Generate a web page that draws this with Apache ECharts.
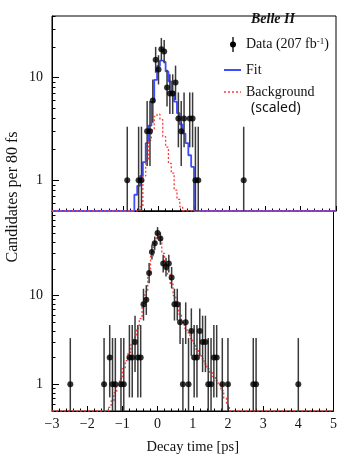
<!DOCTYPE html>
<html><head><meta charset="utf-8">
<script src="https://cdn.jsdelivr.net/npm/echarts@6/dist/echarts.min.js"></script>
<style>html,body{margin:0;padding:0;background:#fff}#c{width:340px;height:456px}</style>
</head><body><div id="c"></div>
<script>
// ---------- data ----------
const binWidth = 0.08; // ps (80 fs)

// Upper panel: data counts per bin (bin centre in ps)
const topDataTime   = [-0.88,-0.56,-0.48,-0.32,-0.24,-0.16,-0.08,0.00,0.08,0.16,0.24,0.32,0.40,0.48,0.56,0.64,0.72,0.88,0.96,1.04,1.12,2.40];
const topDataCounts = [1,1,1,3,3,6,15,12,19,18,8,7,7,9,4,3,4,4,4,1,1,1];

// Upper panel: fit (blue histogram)
const topFitTime   = [-0.64,-0.56,-0.48,-0.40,-0.32,-0.24,-0.16,-0.08,0.00,0.08,0.16,0.24,0.32,0.40,0.48,0.56,0.64,0.72,0.80,0.88,0.96];
const topFitValues = [0.72,0.88,1.1,1.5,2.3,3.4,5.8,9.5,13.0,14.7,14.2,11.5,9.2,7.3,5.85,4.5,3.5,2.85,2.3,1.75,1.35];

// Upper panel: background (scaled, red dotted histogram)
const topBkgTime   = [-0.48,-0.40,-0.32,-0.24,-0.16,-0.08,0.00,0.08,0.16,0.24,0.32,0.40,0.48,0.56,0.64];
const topBkgValues = [0.55,1.1,1.55,2.45,3.1,4.2,4.4,3.9,2.66,2.1,1.46,1.17,0.8,0.65,0.55];

// Lower panel: data counts per bin
const botDataTime   = [-2.48,-1.52,-1.36,-1.28,-1.20,-1.04,-0.96,-0.80,-0.72,-0.64,-0.56,-0.48,-0.40,-0.32,-0.24,-0.16,-0.08,0.00,0.08,0.16,0.24,0.32,0.40,0.48,0.56,0.64,0.72,0.80,0.88,0.96,1.04,1.12,1.20,1.28,1.36,1.44,1.52,1.60,1.68,1.84,2.00,2.72,2.80,4.00];
const botDataCounts = [1,1,2,1,1,1,1,2,2,3,2,2,8,9,18,31,39,51,44,23,21,23,16,8,8,5,1,5,1,4,2,2,4,3,3,1,1,2,2,1,1,1,1,1];

// Lower panel: red dotted histogram
const botBkgTime   = [-1.36,-1.28,-1.20,-1.12,-1.04,-0.96,-0.88,-0.80,-0.72,-0.64,-0.56,-0.48,-0.40,-0.32,-0.24,-0.16,-0.08,0.00,0.08,0.16,0.24,0.32,0.40,0.48,0.56,0.64,0.72,0.80,0.88,0.96,1.04,1.12,1.20,1.28,1.36,1.44,1.52,1.60,1.68,1.76,1.84,1.92,2.00];
const botBkgValues = [0.55,0.65,0.8,0.95,1.15,1.5,1.85,2.3,2.8,3.4,4.3,5.5,7.5,11,17,28,40,50,46,30,22,17.5,13.5,10,7.8,6.2,5.0,4.3,3.8,3.3,2.9,2.5,2.2,1.95,1.7,1.5,1.35,1.22,1.1,1.0,0.85,0.7,0.58];

// Axis ticks / labels
const xRange = [-3, 5];
const topYRange = [0.5, 40];
const botYRange = [0.5, 90];
const yMajorTicks = [1, 10];
const yMinorTicksTop = [0.6,0.7,0.8,0.9,2,3,4,5,6,7,8,9,20,30,40];
const yMinorTicksBot = [0.6,0.7,0.8,0.9,2,3,4,5,6,7,8,9,20,30,40,50,60,70,80,90];

// ---------- helpers ----------
const SERIF = 'Liberation Serif';
const BLUE = '#3f4cff';
const RED = '#ff3b3b';

function stepPath(centers, values, yMin) {
  const h = binWidth / 2;
  const pts = [[xRange[0], yMin], [centers[0] - h, yMin]];
  centers.forEach((c, i) => {
    const v = Math.max(values[i], yMin);
    pts.push([c - h, v], [c + h, v]);
  });
  pts.push([centers[centers.length - 1] + h, yMin], [xRange[1], yMin]);
  return pts;
}
// Poisson (Gehrels) 1-sigma interval for a count
function poissonInterval(n) {
  const hi = n + Math.sqrt(n + 0.75) + 1;
  const lo = n * Math.pow(1 - 1 / (9 * n) - 1 / (3 * Math.sqrt(n)), 3);
  return [lo, hi];
}
function errData(times, counts, yr) {
  return times.map((t, i) => {
    const [lo, hi] = poissonInterval(counts[i]);
    return [t, Math.max(lo, yr[0]), Math.min(hi, yr[1])];
  });
}
function errSeries(times, counts, yr, xi, yi) {
  return {
    type: 'custom', xAxisIndex: xi, yAxisIndex: yi, z: 3,
    data: errData(times, counts, yr),
    encode: { x: 0, y: [1, 2] },
    renderItem: function (params, api) {
      const p1 = api.coord([api.value(0), api.value(1)]);
      const p2 = api.coord([api.value(0), api.value(2)]);
      return { type: 'line', shape: { x1: p1[0], y1: p1[1], x2: p2[0], y2: p2[1] },
               style: { stroke: '#3a3a3a', lineWidth: 1.5 } };
    }
  };
}
function xAxisCfg(gridIndex, showLabels) {
  return {
    type: 'value', gridIndex, min: xRange[0], max: xRange[1], interval: 1,
    axisLine: { show: true, onZero: false, lineStyle: { color: '#000', width: 1 } },
    axisTick: { show: true, inside: true, length: 5, lineStyle: { color: '#000', width: 1 } },
    minorTick: { show: true, splitNumber: 5, length: 2.5, lineStyle: { color: '#000', width: 1 } },
    splitLine: { show: false },
    axisLabel: { show: showLabels, margin: 6, fontFamily: SERIF, fontSize: 14, color: '#111',
                 formatter: v => String(v).replace('-', '\u2212') },
    name: showLabels ? 'Decay time [ps]' : '',
    nameLocation: 'middle', nameGap: 29,
    nameTextStyle: { fontFamily: SERIF, fontSize: 14.5, color: '#111' }
  };
}
function yAxisMajor(gridIndex, yr) {
  return {
    type: 'log', logBase: 10, gridIndex, min: yr[0], max: yr[1], position: 'left',
    axisLine: { show: true, onZero: false, lineStyle: { color: '#000', width: 1 } },
    axisTick: { show: true, inside: true, length: 7, customValues: yMajorTicks, lineStyle: { color: '#000', width: 1 } },
    axisLabel: { show: true, customValues: yMajorTicks, margin: 9, fontFamily: SERIF, fontSize: 14, color: '#111',
                 formatter: v => String(Math.round(v)) },
    splitLine: { show: false }, minorTick: { show: false }
  };
}
function yAxisMinor(gridIndex, yr, minors) {
  return {
    type: 'log', logBase: 10, gridIndex, min: yr[0], max: yr[1], position: 'left',
    axisLine: { show: false, onZero: false },
    axisTick: { show: true, inside: true, length: 3.5, customValues: minors, lineStyle: { color: '#000', width: 1 } },
    axisLabel: { show: false }, splitLine: { show: false }
  };
}

const chart = echarts.init(document.getElementById('c'), null, { renderer: 'canvas' });
chart.setOption({
  animation: false,
  backgroundColor: '#fff',
  grid: [
    { left: 52, right: 4, top: 16, height: 195, show: true, borderColor: '#000', borderWidth: 1, backgroundColor: 'transparent' },
    { left: 52, right: 4, top: 211, height: 203.5, show: true, borderColor: '#000', borderWidth: 1, backgroundColor: 'transparent' }
  ],
  xAxis: [xAxisCfg(0, false), xAxisCfg(1, true)],
  yAxis: [yAxisMajor(0, topYRange), yAxisMinor(0, topYRange, yMinorTicksTop),
          yAxisMajor(1, botYRange), yAxisMinor(1, botYRange, yMinorTicksBot)],
  series: [
    { type: 'line', xAxisIndex: 0, yAxisIndex: 0, data: stepPath(topFitTime, topFitValues, topYRange[0]),
      showSymbol: false, symbol: 'none', lineStyle: { color: BLUE, width: 1.8 }, z: 2 },
    { type: 'line', xAxisIndex: 0, yAxisIndex: 0, data: stepPath(topBkgTime, topBkgValues, topYRange[0]),
      showSymbol: false, symbol: 'none', lineStyle: { color: RED, width: 1.3, type: [2, 2] }, z: 2 },
    errSeries(topDataTime, topDataCounts, topYRange, 0, 0),
    { type: 'scatter', xAxisIndex: 0, yAxisIndex: 0, symbol: 'circle', symbolSize: 6, z: 4,
      itemStyle: { color: '#000' }, data: topDataTime.map((t, i) => [t, topDataCounts[i]]) },

    { type: 'line', xAxisIndex: 1, yAxisIndex: 2, data: stepPath(botBkgTime, botBkgValues, botYRange[0]),
      showSymbol: false, symbol: 'none', lineStyle: { color: RED, width: 1.3, type: [2, 2] }, z: 2 },
    errSeries(botDataTime, botDataCounts, botYRange, 1, 2),
    { type: 'scatter', xAxisIndex: 1, yAxisIndex: 2, symbol: 'circle', symbolSize: 6, z: 4,
      itemStyle: { color: '#000' }, data: botDataTime.map((t, i) => [t, botDataCounts[i]]) }
  ],
  graphic: [
    { type: 'text', x: 13, y: 197, rotation: Math.PI / 2,
      style: { text: 'Candidates per 80 fs', fontFamily: SERIF, fontSize: 16, fill: '#111', align: 'center', verticalAlign: 'middle' } },
    { type: 'text', x: 273, y: 19,
      style: { text: 'Belle II', fontFamily: SERIF, fontSize: 14, fontWeight: 'bold', fontStyle: 'italic', fill: '#111', align: 'center', verticalAlign: 'middle' } },
    { type: 'line', shape: { x1: 233, y1: 37, x2: 233, y2: 52 }, style: { stroke: '#222', lineWidth: 1.5 } },
    { type: 'circle', shape: { cx: 233, cy: 44.5, r: 3 }, style: { fill: '#000' } },
    { type: 'text', x: 246, y: 44,
      style: { text: 'Data (207 fb{sup|-1})', fontFamily: SERIF, fontSize: 14, fill: '#111', verticalAlign: 'middle',
               rich: { sup: { fontFamily: SERIF, fontSize: 9, fill: '#111', verticalAlign: 'top', lineHeight: 10 } } } },
    { type: 'line', shape: { x1: 224, y1: 70, x2: 241, y2: 70 }, style: { stroke: BLUE, lineWidth: 2 } },
    { type: 'text', x: 246, y: 70, style: { text: 'Fit', fontFamily: SERIF, fontSize: 14, fill: '#111', verticalAlign: 'middle' } },
    { type: 'line', shape: { x1: 224, y1: 92, x2: 241, y2: 92 }, style: { stroke: RED, lineWidth: 1.3, lineDash: [2, 2] } },
    { type: 'text', x: 246, y: 92, style: { text: 'Background', fontFamily: SERIF, fontSize: 14, fill: '#111', verticalAlign: 'middle' } },
    { type: 'text', x: 251, y: 108, style: { text: '(scaled)', fontFamily: 'Noto Sans', fontSize: 14, fill: '#111', verticalAlign: 'middle' } }
  ]
});
</script></body></html>
